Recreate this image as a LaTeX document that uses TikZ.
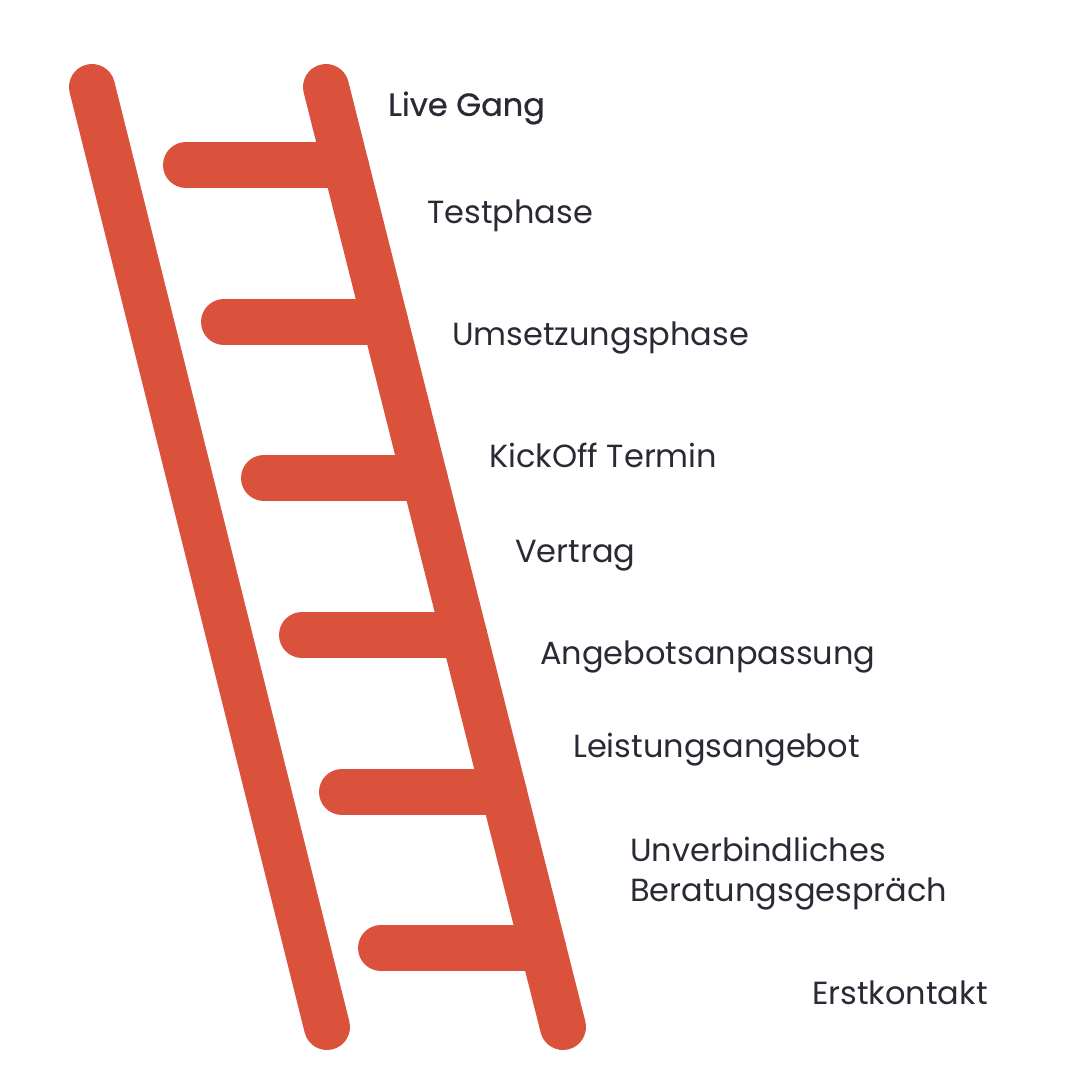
\documentclass[tikz,border=0pt]{standalone}
\usepackage{fontspec}
\setmainfont{Poppins}
\definecolor{lad}{HTML}{DA523C}
\definecolor{txt}{HTML}{2A2A35}
\begin{document}
\begin{tikzpicture}[x=1pt,y=-1pt,
  rail/.style={draw=lad,line width=46pt,line cap=round},
  lbl/.style={anchor=west,inner sep=0,text=txt,font=\fontsize{32}{40}\selectfont}]
\useasboundingbox (0,0) rectangle (1080,1080);
\foreach \y/\x in {165/186,322/224,478/264,635/302,792/342,948/381}{
  \pgfmathsetmacro\rx{326+(\y-87)/940*237}
  \draw[rail] (\x,\y) -- (\rx,\y);
}
\coordinate (l1) at (92,87); \coordinate (l2) at (327,1027);
\coordinate (r1) at (326,87); \coordinate (r2) at (563,1027);
\draw[rail] (l1) -- (l2);
\draw[rail] (r1) -- (r2);
\node[lbl,font=\fontsize{32}{40}\selectfont\addfontfeature{FakeBold=0.6}] (n1) at (388,108) {Live Gang};
\node[lbl] (n2) at (427,216) {Testphase};
\node[lbl] (n3) at (452,338) {Umsetzungsphase};
\node[lbl] (n4) at (489,455) {KickOff Termin};
\node[lbl] (n5) at (515,556) {Vertrag};
\node[lbl] (n6) at (540,657) {Angebotsanpassung};
\node[lbl] (n7) at (573,750) {Leistungsangebot};
\node[lbl,align=left] (n8) at (630,874) {Unverbindliches\\Beratungsgespräch};
\node[lbl] (n9) at (812,993) {Erstkontakt};
\end{tikzpicture}
\end{document}
